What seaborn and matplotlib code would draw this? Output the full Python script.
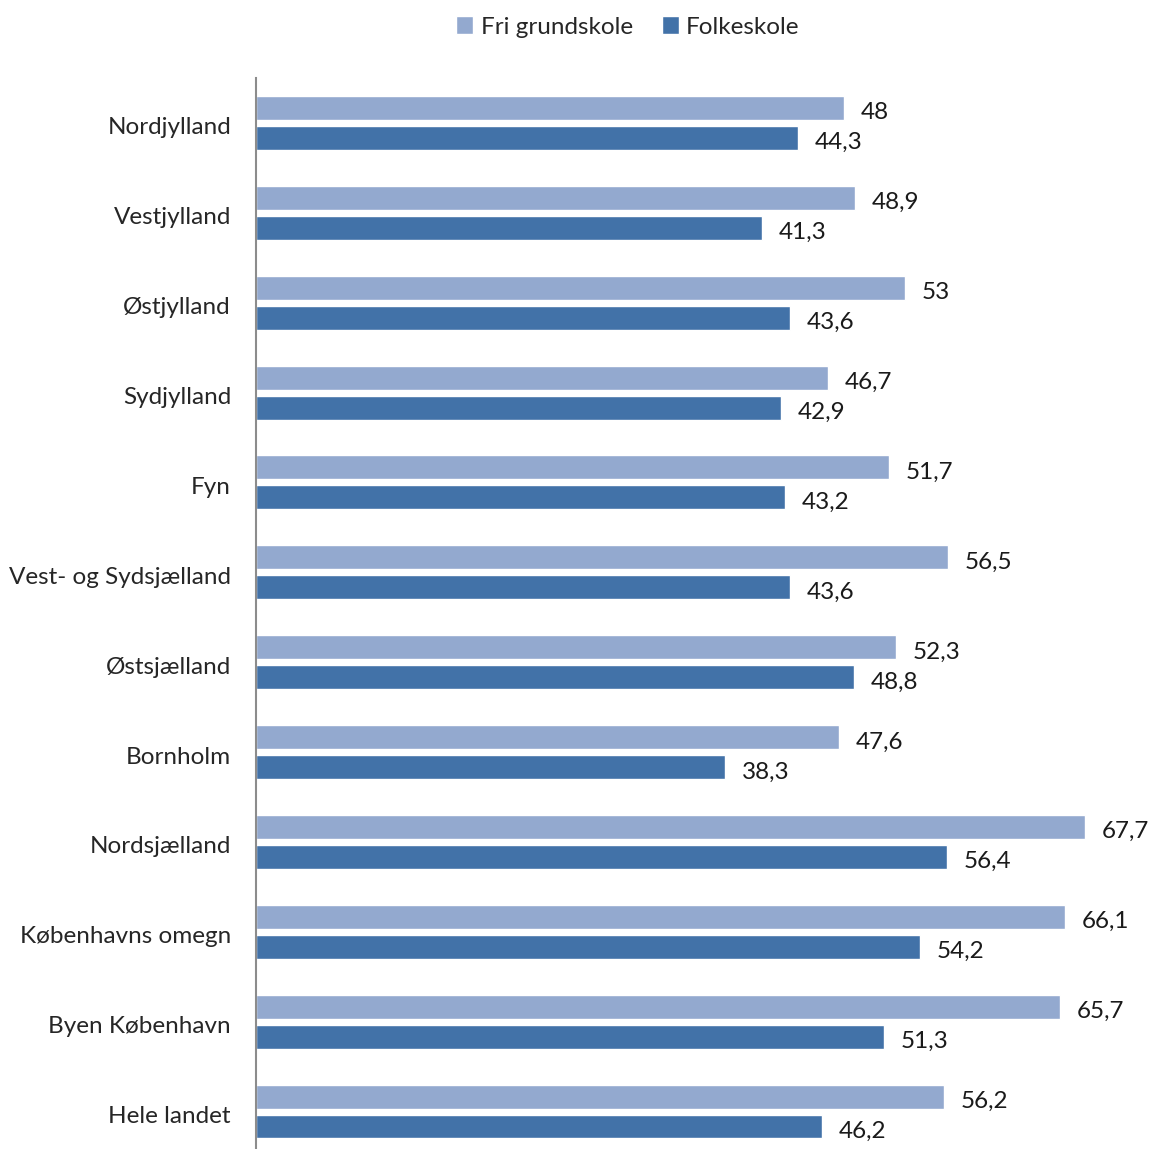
import matplotlib
matplotlib.use("Agg")
import matplotlib.pyplot as plt
import matplotlib.transforms as mtransforms
import seaborn as sns
import pandas as pd

regions = ["Nordjylland", "Vestjylland", "Østjylland", "Sydjylland", "Fyn",
           "Vest- og Sydsjælland", "Østsjælland", "Bornholm", "Nordsjælland",
           "Københavns omegn", "Byen København", "Hele landet"]
fri_grundskole = [48, 48.9, 53, 46.7, 51.7, 56.5, 52.3, 47.6, 67.7, 66.1, 65.7, 56.2]
folkeskole = [44.3, 41.3, 43.6, 42.9, 43.2, 43.6, 48.8, 38.3, 56.4, 54.2, 51.3, 46.2]
series = ["Fri grundskole", "Folkeskole"]

df = pd.DataFrame({
    "region": regions * 2,
    "value": fri_grundskole + folkeskole,
    "type": [series[0]] * len(regions) + [series[1]] * len(regions),
})

sns.set_style("white")
plt.rcParams['font.family'] = ['Lato', 'DejaVu Sans']

fig = plt.figure(figsize=(11.49, 11.49), dpi=100)
ax = fig.add_axes([256 / 1149, 0.0, 1 - 256 / 1149, 1 - 78 / 1149])

palette = {"Fri grundskole": "#93A9CF", "Folkeskole": "#4272A8"}
sns.barplot(data=df, y="region", x="value", hue="type", orient="h",
            palette=palette, saturation=1, width=0.667, gap=0.2, ax=ax, legend=True)

ax.set_xlim(0, (1149 - 256) / 12.245)
ax.set_ylim(11.417, -0.5)
ax.set_xlabel("")
ax.set_ylabel("")
ax.set_xticks([])
ax.tick_params(axis="y", length=0, pad=18, labelsize=17.5)
# nudge region names down a little
shift = mtransforms.ScaledTranslation(0, -3 / 100, fig.dpi_scale_trans)
for lbl in ax.get_yticklabels():
    lbl.set_transform(lbl.get_transform() + shift)
for side in ["top", "right", "bottom"]:
    ax.spines[side].set_visible(False)
ax.spines["left"].set_color("#8c8c8c")
ax.spines["left"].set_linewidth(1.5)

for cont in ax.containers:
    labels = [f"{v:g}".replace(".", ",") for v in cont.datavalues]
    texts = ax.bar_label(cont, labels=labels, padding=12, fontsize=17.5, color="#1a1a1a")
    for t in texts:
        t.xyann = (12, -3.5)

handles, labs = ax.get_legend_handles_labels()
ax.legend(handles, labs, loc="center", bbox_to_anchor=(628 / 1149, 1 - 27 / 1149),
          bbox_transform=fig.transFigure, ncol=2, frameon=False, fontsize=17.5,
          handlelength=0.7, handleheight=0.7, handletextpad=0.3, columnspacing=1.2)

fig.savefig("out.png", dpi=100)
